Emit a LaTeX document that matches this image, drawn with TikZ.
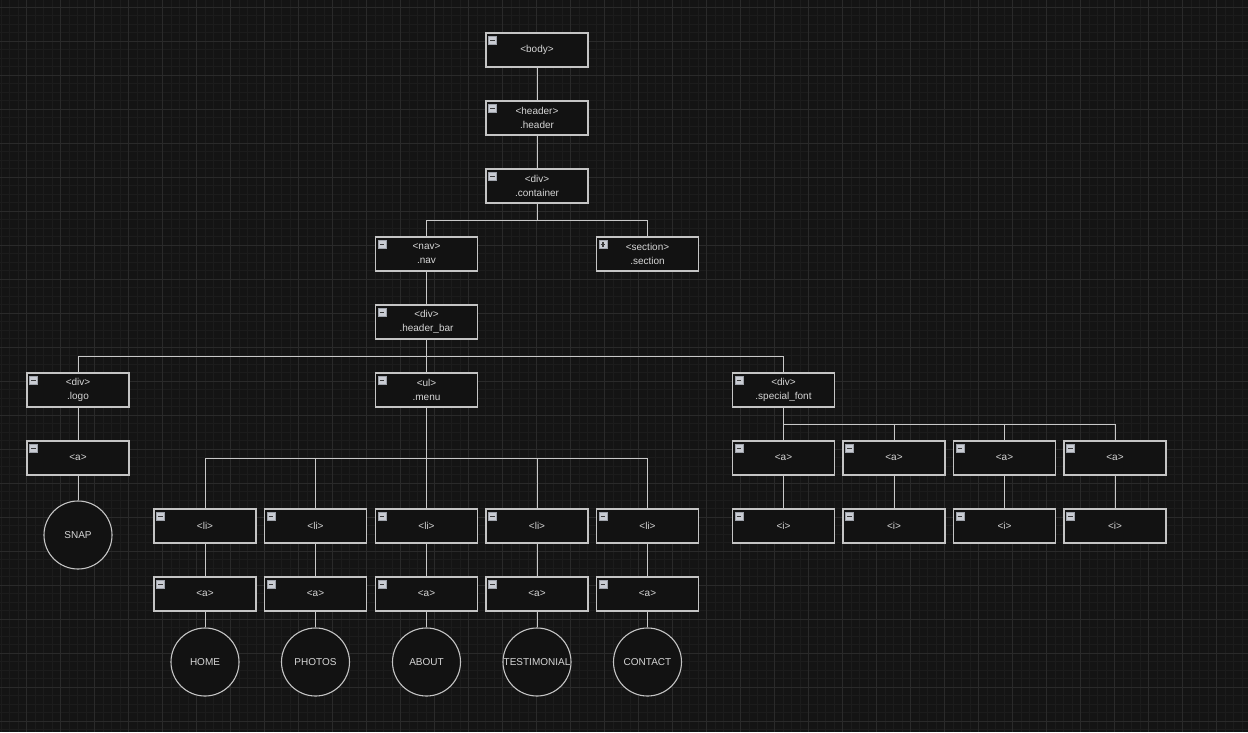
\documentclass[tikz,border=0pt]{standalone}
\usepackage{fontspec}
\setmainfont{Liberation Sans}
\usetikzlibrary{calc}
\definecolor{bgcol}{HTML}{141414}
\definecolor{minorcol}{HTML}{1C1C1C}
\definecolor{majorcol}{HTML}{2A2A2A}
\definecolor{boxfill}{HTML}{121212}
\definecolor{boxline}{HTML}{C4C4C4}
\definecolor{txtcol}{HTML}{D6D6D6}
\definecolor{edgecol}{HTML}{C8C8C8}
\definecolor{iconfill}{HTML}{C9CCD3}
\definecolor{iconline}{HTML}{9EA2AA}
\definecolor{icondark}{HTML}{3A3A3A}
\tikzset{
  elbox/.style={draw=boxline, line width=1.3pt, fill=boxfill, minimum width=102pt, minimum height=34pt, inner sep=0pt, text=txtcol, align=center, font=\fontsize{10}{14}\selectfont},
  txtcircle/.style={circle, draw=boxline, line width=1.1pt, fill=boxfill, minimum size=68pt, inner sep=0pt, text=txtcol, font=\fontsize{10}{12}\selectfont},
  edge/.style={draw=edgecol, line width=1pt},
  minorline/.style={draw=minorcol, line width=0.8pt},
  majorline/.style={draw=majorcol, line width=1pt},
  iconbox/.style={fill=iconfill, draw=iconline, line width=0.6pt},
  iconbar/.style={draw=icondark, line width=1.6pt}
}
\newcommand{\minusbtn}[1]{%
  \draw[iconbox] ($(#1.north west)+(3,4)$) rectangle ++(8,8);
  \draw[iconbar] ($(#1.north west)+(4.8,8)$) -- ++(4.4,0);}
\newcommand{\plusbtn}[1]{%
  \draw[iconbox] ($(#1.north west)+(3,4)$) rectangle ++(8,8);
  \draw[iconbar] ($(#1.north west)+(4.8,8)$) -- ++(4.4,0);
  \draw[iconbar] ($(#1.north west)+(7,5.8)$) -- ++(0,4.4);}
\begin{document}
\begin{tikzpicture}[x=1pt, y=-1pt]
% background and grid
\fill[bgcol] (0,0) rectangle (1248,732);
\useasboundingbox (0,0) rectangle (1248,732);
\foreach \x in {1,9.5,...,1248} \draw[minorline] (\x,0) -- (\x,732);
\foreach \y in {7.3,15.8,...,732} \draw[minorline] (0,\y) -- (1248,\y);
\foreach \x in {26.5,60.5,...,1248} \draw[majorline] (\x,0) -- (\x,732);
\foreach \y in {7.3,41.3,...,732} \draw[majorline] (0,\y) -- (1248,\y);

% nodes
\node[elbox] (body) at (537,50) {<body>};
\node[elbox] (header) at (537,118) {<header>\\.header};
\node[elbox] (container) at (537,186) {<div>\\.container};
\node[elbox] (nav) at (426.5,254) {<nav>\\.nav};
\node[elbox] (section) at (647.5,254) {<section>\\.section};
\node[elbox] (headerbar) at (426.5,322) {<div>\\.header\_bar};
\node[elbox] (logo) at (78,390) {<div>\\.logo};
\node[elbox] (menu) at (426.5,390) {<ul>\\.menu};
\node[elbox] (special) at (783.5,390) {<div>\\.special\_font};
\node[elbox] (logoa) at (78,458) {<a>};
\node[txtcircle] (snap) at (78,535) {SNAP};

\foreach \n/\x/\t in {1/205/HOME,2/315.5/PHOTOS,3/426.5/ABOUT,4/537/TESTIMONIAL,5/647.5/CONTACT}{
  \node[elbox] (li\n) at (\x,526) {<li>};
  \node[elbox] (ma\n) at (\x,594) {<a>};
  \node[txtcircle] (c\n) at (\x,662) {\t};
}
\foreach \n/\x in {1/783.5,2/894,3/1004.5,4/1115}{
  \node[elbox] (sa\n) at (\x,458) {<a>};
  \node[elbox] (si\n) at (\x,526) {<i>};
}

% connectors
\draw[edge] (body) -- (header);
\draw[edge] (header) -- (container);
\draw[edge] (container.south) -- ++(0,17) -| (nav.north);
\draw[edge] (container.south) -- ++(0,17) -| (section.north);
\draw[edge] (nav) -- (headerbar);
\draw[edge] (headerbar.south) -- ++(0,17) -| (logo.north);
\draw[edge] (headerbar.south) -- (menu.north);
\draw[edge] (headerbar.south) -- ++(0,17) -| (special.north);
\draw[edge] (logo) -- (logoa);
\draw[edge] (logoa) -- (snap);
\foreach \n in {1,...,5}{
  \draw[edge] (menu.south) -- ++(0,51) -| (li\n.north);
  \draw[edge] (li\n) -- (ma\n);
  \draw[edge] (ma\n) -- (c\n);
}
\foreach \n in {1,...,4}{
  \draw[edge] (special.south) -- ++(0,17) -| (sa\n.north);
  \draw[edge] (sa\n) -- (si\n);
}

% redraw boxes on top of connector ends (icons)
\foreach \b in {body,header,container,nav,headerbar,logo,menu,special,logoa}{\minusbtn{\b}}
\plusbtn{section}
\foreach \n in {1,...,5}{\minusbtn{li\n}\minusbtn{ma\n}}
\foreach \n in {1,...,4}{\minusbtn{sa\n}\minusbtn{si\n}}
\end{tikzpicture}
\end{document}
